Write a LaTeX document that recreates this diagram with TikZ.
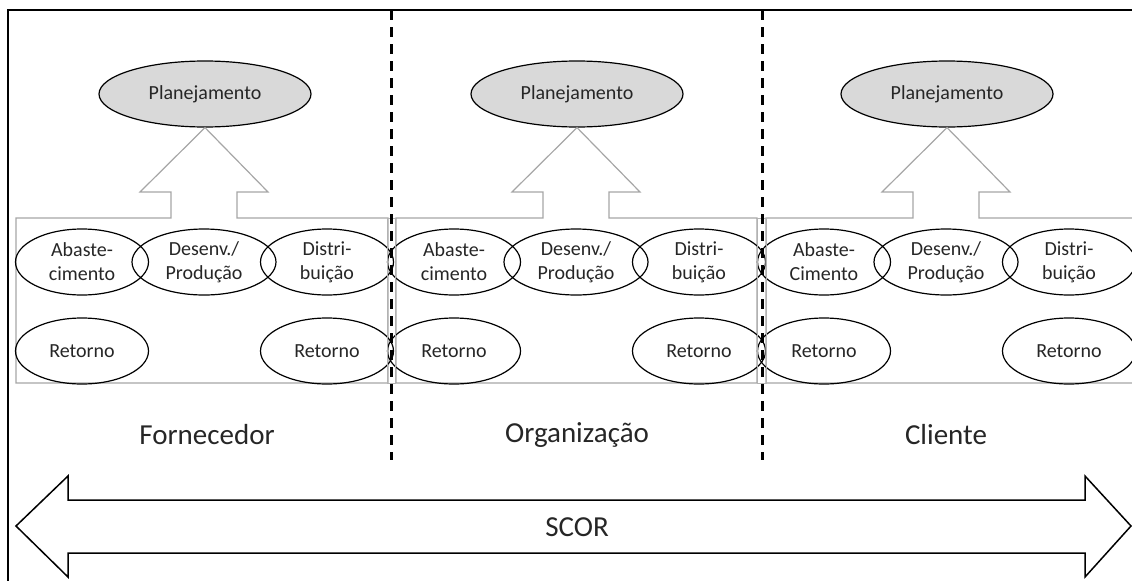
\documentclass[tikz,border=0pt]{standalone}
\usepackage{fontspec}
\setmainfont{Carlito}
\usetikzlibrary{shapes.geometric,positioning}

\tikzset{
  process/.style={ellipse, draw=black, line width=1.2pt, inner sep=0pt,
    minimum height=66pt, align=center, text=black!85,
    font=\fontsize{20}{24}\selectfont},
  planning/.style={process, fill=black!15, minimum width=212pt},
  side/.style={process, minimum width=133pt},
  middle/.style={process, minimum width=144pt},
  block/.style={draw=black!35, line width=1.2pt, line join=miter},
  divider/.style={draw=black, line width=3pt, dash pattern=on 10pt off 7pt},
  strip/.style={draw=black!30, line width=1pt},
  actor/.style={text=black!85, font=\fontsize{29}{34}\selectfont},
}

\begin{document}
\begin{tikzpicture}[x=1pt, y=-1pt]
  \useasboundingbox (0,0) rectangle (1132,581);
  % outer frame
  \draw[line width=2.4pt] (1132,10) -- (8,10) -- (8,581);

  % one block per actor
  \foreach \c/\l/\r/\s/\ab in {204/16/388/forn/{Abaste-\\cimento},
                                576/396/757/org/{Abaste-\\cimento},
                                946/766/1140/cli/{Abaste-\\Cimento}} {
    \node[planning] (plan-\s) at (\c+1,94) {Planejamento};
    \draw[block] (\l,218) -- (\c-33,218) -- (\c-33,192) -- (\c-64,192)
      -- (plan-\s.south) -- (\c+64,192) -- (\c+33,192) -- (\c+33,218)
      -- (\r,218) -- (\r,383) -- (\l,383) -- cycle;
    \node[side]   (abast-\s)   at (\c-122,262) {\ab};
    \node[middle] (prod-\s)    at (\c,262)     {Desenv./\\Produção};
    \node[side]   (dist-\s)    at (\c+123,262) {Distri-\\buição};
    \node[side]   (retin-\s)   at (\c-122,351) {Retorno};
    \node[side]   (retout-\s)  at (\c+123,351) {Retorno};
  }

  \draw[strip] (387,218) rectangle (395,383);
  \draw[strip] (757,218) rectangle (766,383);
  \draw[divider] (391,10) -- (391,460);
  \draw[divider] (762,10) -- (762,460);

  \node[actor] (forn) at (207,435) {Fornecedor};
  \node[actor] (org)  at (577,435) {Organização};
  \node[actor] (cli)  at (946,435) {Cliente};

  % SCOR double arrow
  \draw[line width=1.5pt, line join=miter] (16,526) -- (68,476) -- (68,500)
    -- (1085,500) -- (1085,476) -- (1131,526) -- (1085,577) -- (1085,553)
    -- (68,553) -- (68,577) -- cycle;
  \node[actor] (scor) at (577,527) {SCOR};
\end{tikzpicture}
\end{document}
